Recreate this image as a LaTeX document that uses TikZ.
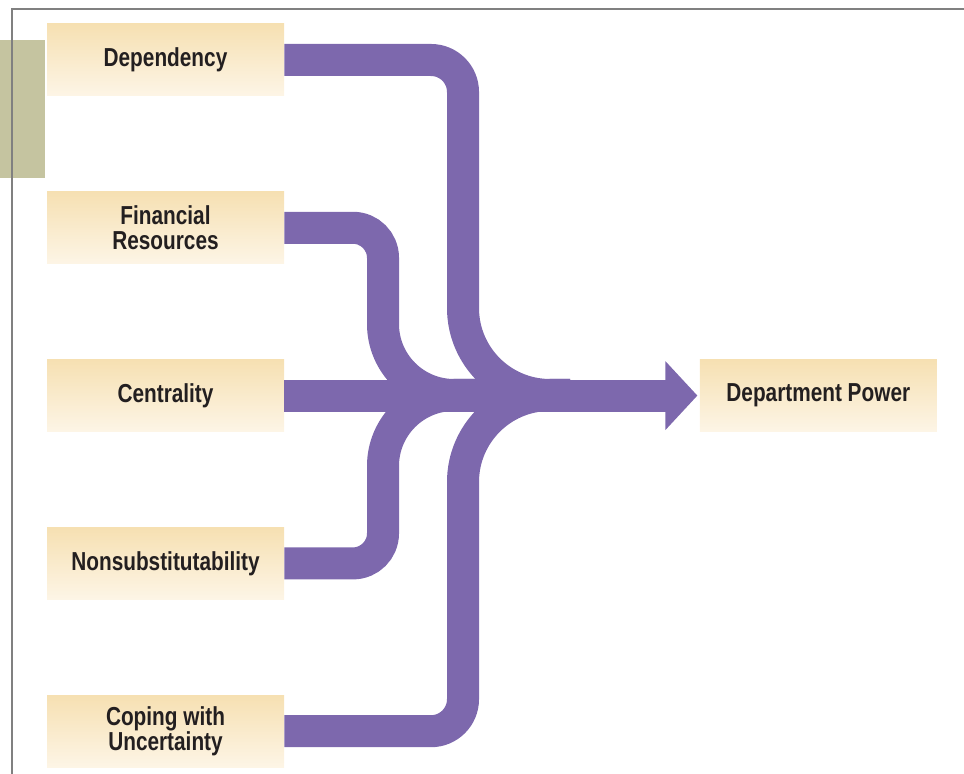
\documentclass[tikz,border=0pt]{standalone}
\usepackage{fontspec}
\setmainfont{Liberation Sans}[FakeStretch=0.8]
\usepackage{tikz}
\usetikzlibrary{arrows.meta, positioning}
\definecolor{flowpurple}{HTML}{7D68AD}
\definecolor{boxtop}{HTML}{F6E0B2}
\definecolor{boxbottom}{HTML}{FDF5E6}
\definecolor{tabolive}{HTML}{C5C4A0}
\definecolor{labeltext}{HTML}{231F20}

\begin{document}
\begin{tikzpicture}[
    x=0.5pt, y=-0.5pt,
    every node/.style={font=\fontsize{13}{12.5}\selectfont\bfseries, align=center, text=labeltext},
    factor/.style={rectangle, top color=boxtop, bottom color=boxbottom, minimum width=118.5pt, minimum height=36pt, inner sep=0pt},
    flow/.style={line width=16pt, draw=flowpurple},
    tip/.style={-{Triangle[length=16pt, width=33.5pt]}, shorten >=1pt}
]
\useasboundingbox (0,0) rectangle (964,774);

% Frame and side tab
\fill[tabolive] (0,40) rectangle (45,178);
\draw[gray, line width=1pt] (12,774) -- (12,9) -- (964,9);

% Factors
\node[factor] (dep) at (165.5,60) {Dependency};
\node[factor, below=47.5pt of dep] (fin) {Financial\\Resources};
\node[factor, below=47.5pt of fin] (cent) {Centrality};
\node[factor, below=47.5pt of cent] (nonsub) {Nonsubstitutability};
\node[factor, below=47.5pt of nonsub] (coping) {Coping with\\Uncertainty};

% Outcome
\node[factor, right=207.5pt of cent] (power) {Department Power};

% Merge points
\coordinate (outerx) at (463,395);
\coordinate (innerx) at (383,395);
\coordinate (joinout) at (570,395);
\coordinate (joinin) at (480,395);

% Flows
\draw[flow] (dep.east) [rounded corners=16pt] -- (dep.east -| outerx) [rounded corners=43.5pt] -- (outerx) [sharp corners] -- (joinout);
\draw[flow] (fin.east) [rounded corners=15pt] -- (fin.east -| innerx) [rounded corners=35.5pt] -- (innerx) [sharp corners] -- (joinin);
\draw[flow] (nonsub.east) [rounded corners=15pt] -- (nonsub.east -| innerx) [rounded corners=35.5pt] -- (innerx) [sharp corners] -- (joinin);
\draw[flow] (coping.east) [rounded corners=16pt] -- (coping.east -| outerx) [rounded corners=43.5pt] -- (outerx) [sharp corners] -- (joinout);
\draw[flow, tip] (cent.east) -- (power.west);

\end{tikzpicture}
\end{document}
